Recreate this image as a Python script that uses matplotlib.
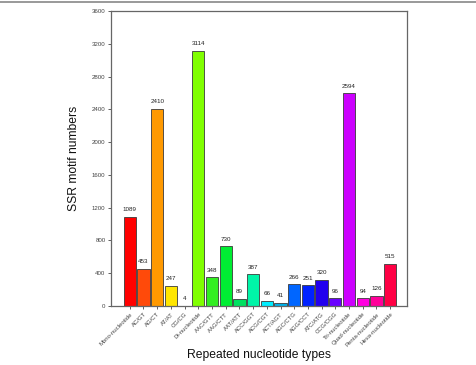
import matplotlib
matplotlib.use("Agg")
import matplotlib.pyplot as plt
from matplotlib.lines import Line2D

# SSR motif types and their counts
motifs = ["Mono-nucleotide", "AC/GT", "AG/CT", "AT/AT", "CG/CG",
          "Di-nucleotide", "AAC/GTT", "AAG/CTT", "AAT/ATT", "ACC/GGT",
          "ACG/CGT", "ACT/AGT", "AGC/CTG", "AGG/CCT", "ATC/ATG",
          "CCG/CGG", "Tri-nucleotide", "Quad-nucleotide",
          "Penta-nucleotide", "Hexa-nucleotide"]
counts = [1089, 453, 2410, 247, 4, 3114, 348, 730, 89, 387,
          66, 41, 266, 251, 320, 96, 2594, 94, 126, 515]
yticks = [0, 400, 800, 1200, 1600, 2000, 2400, 2800, 3200, 3600]

colors = ["#ff0000", "#ff4a0a", "#ff9900", "#ffe600", "#c8ff00",
          "#80ff00", "#33ee22", "#00ee33", "#00e060", "#00f5a8",
          "#00eeff", "#00b0e8", "#0066ff", "#0022ff", "#2200ee",
          "#6a00ff", "#cc00ff", "#ff00e0", "#ff0099", "#ff0044"]

plt.rcParams["font.family"] = ["Liberation Sans", "DejaVu Sans"]

fig = plt.figure(figsize=(4.77, 3.65), dpi=100)
ax = fig.add_axes([111 / 477, 1 - 306 / 365, 296 / 477, 295 / 365])

x = list(range(len(motifs)))
bars = ax.bar(x, counts, width=0.9, color=colors,
              edgecolor="#3a3a3a", linewidth=0.6)

# value on top of each bar
for xi, v in zip(x, counts):
    ax.text(xi, v + 55, str(v), ha="center", va="bottom",
            fontsize=4.5, color="#222222")

ax.set_xlim(-1.37, 20.23)
ax.set_ylim(0, 3600)
ax.set_yticks(yticks)
ax.set_yticklabels([str(t) for t in yticks], fontsize=4.4)
ax.set_xticks(x)
ax.set_xticklabels(motifs, rotation=45, ha="right",
                   rotation_mode="anchor", fontsize=4.3)
ax.tick_params(axis="both", length=2.5, width=0.6, colors="#444444",
               pad=1.5)
for s in ax.spines.values():
    s.set_color("#666666")
    s.set_linewidth(0.9)

fig.text(74 / 477, 1 - 158 / 365, "SSR motif numbers", rotation=90,
         ha="center", va="center", fontsize=8.7, color="#111111")
fig.text(259 / 477, 1 - 355 / 365, "Repeated nucleotide types",
         ha="center", va="center", fontsize=8.7, color="#111111")

# thin frame line at the top of the image
fig.add_artist(Line2D([0.0, 1.0], [0.995, 0.995], color="#888888",
                      linewidth=1.2, transform=fig.transFigure))

fig.savefig("out.png", dpi=100)
